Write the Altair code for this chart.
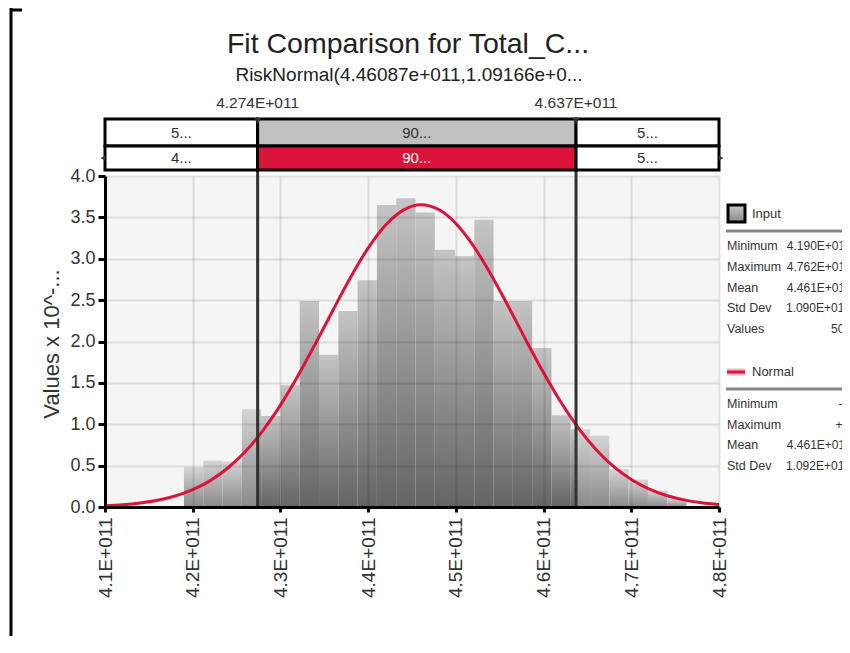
import altair as alt
import pandas as pd

FONT = "Liberation Sans"

# ---------------- data (x in units of 1e11) ----------------
x_min, x_max = 4.1, 4.8
lower_mark, upper_mark = 4.274, 4.637
marker_labels = ["4.274E+011", "4.637E+011"]

bin_edges = [4.190, 4.212, 4.234, 4.256, 4.278, 4.300, 4.322, 4.344, 4.366,
             4.388, 4.410, 4.432, 4.454, 4.476, 4.499, 4.521, 4.543, 4.565,
             4.587, 4.609, 4.631, 4.653, 4.675, 4.697, 4.719, 4.741, 4.763]
bin_heights = [0.48, 0.56, 0.55, 1.18, 1.10, 1.47, 2.49, 1.84, 2.37, 2.74,
               3.65, 3.73, 3.56, 3.11, 3.03, 3.47, 2.49, 2.49, 1.92, 1.11,
               0.94, 0.86, 0.46, 0.33, 0.20, 0.10]

curve_x = [4.10, 4.12, 4.14, 4.16, 4.18, 4.20, 4.22, 4.24, 4.26, 4.28, 4.30, 4.32,
           4.34, 4.36, 4.38, 4.40, 4.42, 4.44, 4.46, 4.48, 4.50, 4.52, 4.54, 4.56,
           4.58, 4.60, 4.62, 4.64, 4.66, 4.68, 4.70, 4.72, 4.74, 4.76, 4.78, 4.80]
curve_y = [0.015, 0.028, 0.049, 0.082, 0.133, 0.210, 0.319, 0.471, 0.671, 0.924,
           1.231, 1.586, 1.976, 2.380, 2.777, 3.128, 3.407, 3.588, 3.654, 3.598,
           3.427, 3.156, 2.810, 2.420, 2.014, 1.622, 1.263, 0.951, 0.692, 0.487,
           0.332, 0.218, 0.139, 0.086, 0.051, 0.029]

band_segments = ["lower", "mid", "upper"]
band_input_labels = ["5...", "90...", "5..."]
band_fit_labels = ["4...", "90...", "5..."]

x_ticks = [4.1, 4.2, 4.3, 4.4, 4.5, 4.6, 4.7, 4.8]
y_ticks = [0.0, 0.5, 1.0, 1.5, 2.0, 2.5, 3.0, 3.5, 4.0]

title_text = "Fit Comparison for Total_C..."
subtitle_text = "RiskNormal(4.46087e+011,1.09166e+0..."
y_title = "Values x 10^-..."

input_stat_names = ["Minimum", "Maximum", "Mean", "Std Dev", "Values"]
input_stat_values = ["4.190E+011", "4.762E+011", "4.461E+011", "1.090E+010", "500"]
fit_stat_names = ["Minimum", "Maximum", "Mean", "Std Dev"]
fit_stat_values = ["-\u221e", "+\u221e", "4.461E+011", "1.092E+010"]

# ---------------- tables ----------------
rows = []
for lo, hi, h in zip(bin_edges[:-1], bin_edges[1:], bin_heights):
    if lo < lower_mark:
        rows.append(dict(x=lo, x2=min(hi, lower_mark), h=h, zone="out"))
    if hi > lower_mark and lo < upper_mark:
        rows.append(dict(x=max(lo, lower_mark), x2=min(hi, upper_mark), h=h, zone="in"))
    if hi > upper_mark:
        rows.append(dict(x=max(lo, upper_mark), x2=hi, h=h, zone="out"))
hist = pd.DataFrame(rows)

curve = pd.DataFrame({"x": curve_x, "y": curve_y})
bounds = [x_min, lower_mark, upper_mark, x_max]
bands = pd.DataFrame({
    "seg": band_segments,
    "x": bounds[:-1],
    "x2": bounds[1:],
    "inp": band_input_labels,
    "fit": band_fit_labels,
})
bands["mid"] = (bands["x"] + bands["x2"]) / 2
marks = pd.DataFrame({"x": [lower_mark, upper_mark], "label": marker_labels})
ends = pd.DataFrame({"x": [x_min, x_max], "shape": ["triangle-left", "triangle-right"]})

# ---------------- encodings ----------------
xscale = alt.Scale(domain=[x_min, x_max], nice=False, zero=False)
yscale = alt.Scale(domain=[0, 4], nice=False)

x_axis = alt.Axis(
    values=x_ticks, labelExpr="format(datum.value, '.1f') + 'E+011'",
    labelAngle=270, labelAlign="right", labelBaseline="middle",
    labelFontSize=19, labelColor="#333", labelFont=FONT, labelPadding=5,
    tickSize=5, tickWidth=3, tickColor="black",
    domainColor="black", domainWidth=3,
    grid=True, gridColor="black", gridOpacity=0.1, gridWidth=2, zindex=1,
)
y_axis = alt.Axis(
    values=y_ticks, format=".1f",
    labelFontSize=18, labelColor="#333", labelFont=FONT, labelPadding=3,
    tickSize=7, tickWidth=3, tickColor="black",
    domainColor="black", domainWidth=3,
    grid=True, gridColor="black", gridOpacity=0.1, gridWidth=2, zindex=1,
)


def X(field="x"):
    return alt.X(f"{field}:Q", scale=xscale, axis=x_axis, title=None)


def Y(field):
    return alt.Y(f"{field}:Q", scale=yscale, axis=y_axis, title=None)


grad_in = {"gradient": "linear", "x1": 0, "y1": 0, "x2": 0, "y2": 1,
           "stops": [{"offset": 0, "color": "#c4c4c4"}, {"offset": 1, "color": "#646464"}]}
grad_out = {"gradient": "linear", "x1": 0, "y1": 0, "x2": 0, "y2": 1,
            "stops": [{"offset": 0, "color": "#d4d4d4"}, {"offset": 1, "color": "#8a8a8a"}]}

bars_out = alt.Chart(hist).transform_filter(alt.datum.zone == "out").mark_rect(fill=grad_out).encode(
    x=X(), x2="x2:Q", y=Y("h"), y2=alt.datum(0))
bars_in = alt.Chart(hist).transform_filter(alt.datum.zone == "in").mark_rect(fill=grad_in).encode(
    x=X(), x2="x2:Q", y=Y("h"), y2=alt.datum(0))

line = alt.Chart(curve).mark_line(color="#dc143c", strokeWidth=3, interpolate="monotone").encode(
    x=X(), y=Y("y"))

# delimiter lines
delims = alt.Chart(marks).mark_rule(color="#333333", strokeWidth=3).encode(
    x=X(), y=alt.value(-57), y2=alt.value(331))
delim_tri = alt.Chart(marks).mark_point(shape="triangle-down", filled=True, size=45,
                                        color="#333333", opacity=1, yOffset=2).encode(
    x=X(), y=alt.value(-57))
delim_lbl = alt.Chart(marks).mark_text(font=FONT, fontSize=15.5, color="#333", baseline="middle").encode(
    x=X(), y=alt.value(-73), text="label:N")

# band rows
row1 = alt.Chart(bands).mark_rect(stroke="black", strokeWidth=3).encode(
    x=X(), x2="x2:Q", y=alt.value(-57), y2=alt.value(-30),
    fill=alt.condition(alt.datum.seg == "mid", alt.value("#c0c0c0"), alt.value("white")))
row2 = alt.Chart(bands).mark_rect(stroke="black", strokeWidth=3).encode(
    x=X(), x2="x2:Q", y=alt.value(-30), y2=alt.value(-6),
    fill=alt.condition(alt.datum.seg == "mid", alt.value("#dc143c"), alt.value("white")))
row1_txt = alt.Chart(bands).mark_text(font=FONT, fontSize=15, baseline="middle", color="#333").encode(
    x=X("mid"), y=alt.value(-43), text="inp:N")
row2_txt = alt.Chart(bands).mark_text(font=FONT, fontSize=15, baseline="middle").encode(
    x=X("mid"), y=alt.value(-18), text="fit:N",
    color=alt.condition(alt.datum.seg == "mid", alt.value("white"), alt.value("#333")))
end_l = alt.Chart(ends).transform_filter(alt.datum.shape == "triangle-left").mark_point(
    shape="triangle-left", filled=True, size=30, color="#333", opacity=1, xOffset=-2).encode(
    x=X(), y=alt.value(-18))
end_r = alt.Chart(ends).transform_filter(alt.datum.shape == "triangle-right").mark_point(
    shape="triangle-right", filled=True, size=30, color="#333", opacity=1, xOffset=2).encode(
    x=X(), y=alt.value(-18))


def text_at(txt, x, y, size, align="center", color="#222", baseline="middle", angle=0):
    mk = dict(font=FONT, fontSize=size, align=align, baseline=baseline, color=color)
    if angle:
        mk["angle"] = angle
    return alt.Chart(pd.DataFrame({"t": [txt]})).mark_text(**mk).encode(
        x=alt.value(x), y=alt.value(y), text="t:N")


title = text_at(title_text, 303, -123, 28.5, baseline="alphabetic")
subtitle = text_at(subtitle_text, 304, -95, 19, baseline="alphabetic")
ytitle = text_at(y_title, -53, 168, 22, angle=270, color="#333")

# legend panel (right side)
VAL_X = 746
NAME_SIZE = 12.5
VAL_SIZE = 12
legend_layers = []
swatch = alt.Chart(pd.DataFrame({"t": ["Input"]})).mark_rect(
    fill={"gradient": "linear", "x1": 0, "y1": 0, "x2": 0, "y2": 1,
          "stops": [{"offset": 0, "color": "#c8c8c8"}, {"offset": 1, "color": "#8a8a8a"}]},
    stroke="black", strokeWidth=3).encode(
    x=alt.value(623), x2=alt.value(640), y=alt.value(29), y2=alt.value(46))
legend_layers.append(swatch)
legend_layers.append(text_at("Input", 647, 38, 13, align="left", color="#333"))
legend_layers.append(alt.Chart(pd.DataFrame({"t": [0]})).mark_rule(color="#888888", strokeWidth=3).encode(
    x=alt.value(621), x2=alt.value(760), y=alt.value(55)))
for i, (n, v) in enumerate(zip(input_stat_names, input_stat_values)):
    yy = 70 + i * 20.8
    legend_layers.append(text_at(n, 622, yy, NAME_SIZE, align="left", color="#333"))
    legend_layers.append(text_at(v, VAL_X, yy, VAL_SIZE, align="right", color="#333"))

legend_layers.append(alt.Chart(pd.DataFrame({"t": [0]})).mark_rule(color="#f4b6c4", strokeWidth=7).encode(
    x=alt.value(622), x2=alt.value(640), y=alt.value(196)))
legend_layers.append(alt.Chart(pd.DataFrame({"t": [0]})).mark_rule(color="#dc143c", strokeWidth=3).encode(
    x=alt.value(622), x2=alt.value(640), y=alt.value(196)))
legend_layers.append(text_at("Normal", 647, 196, 13, align="left", color="#333"))
legend_layers.append(alt.Chart(pd.DataFrame({"t": [0]})).mark_rule(color="#888888", strokeWidth=3).encode(
    x=alt.value(621), x2=alt.value(760), y=alt.value(213)))
for i, (n, v) in enumerate(zip(fit_stat_names, fit_stat_values)):
    yy = 228 + i * 20.5
    legend_layers.append(text_at(n, 622, yy, NAME_SIZE, align="left", color="#333"))
    legend_layers.append(text_at(v, VAL_X, yy, VAL_SIZE, align="right", color="#333"))

# outer bracket frame
frame_v = alt.Chart(pd.DataFrame({"t": [0]})).mark_rule(color="black", strokeWidth=3).encode(
    x=alt.value(-94), y=alt.value(-168), y2=alt.value(470))
frame_h = alt.Chart(pd.DataFrame({"t": [0]})).mark_rule(color="black", strokeWidth=3).encode(
    x=alt.value(-95), x2=alt.value(-83), y=alt.value(-166))

chart = alt.layer(
    bars_out, bars_in, line, delims,
    row1, row2, row1_txt, row2_txt, end_l, end_r,
    delim_tri, delim_lbl, title, subtitle, ytitle, frame_v, frame_h,
    *legend_layers,
).properties(
    width=614, height=331,
    autosize=alt.AutoSizeParams(type="none"),
    padding={"left": 97, "top": 168, "right": 123, "bottom": 129},
    background="white",
).configure_view(fill="#f5f5f5", strokeOpacity=0)

chart.save("out.html", embed_options={"renderer": "svg", "actions": False})
